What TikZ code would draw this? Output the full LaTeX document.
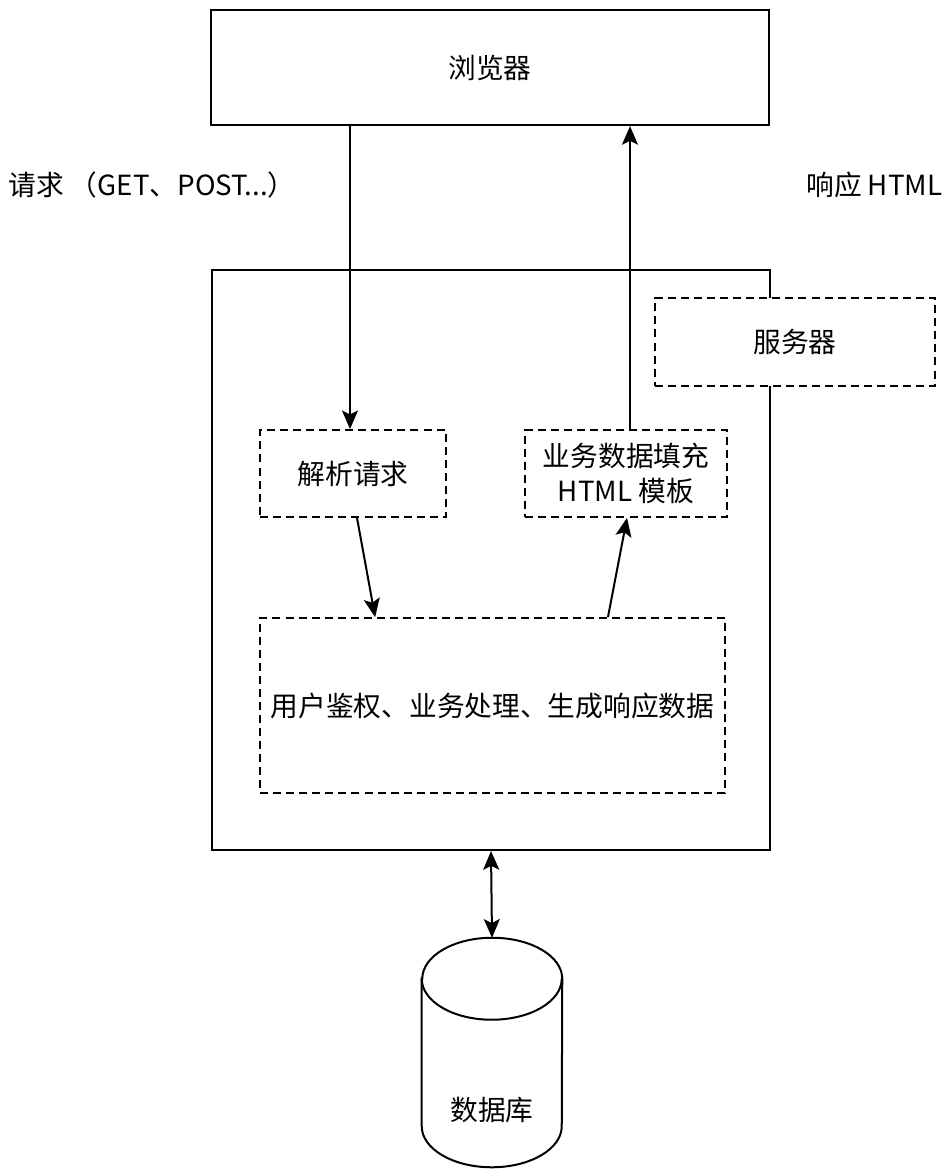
\documentclass[tikz,border=0pt]{standalone}
\usepackage{fontspec}
\setmainfont{Noto Sans CJK SC}
\usetikzlibrary{arrows.meta,calc}

\tikzset{
  solidbox/.style={draw=black, line width=1.6pt, fill=white, inner sep=0pt},
  dashbox/.style={draw=black, line width=1.3pt, dash pattern=on 6pt off 3.8pt,
                  fill=white, inner sep=0pt, align=center},
  txt/.style={font=\fontsize{20.8}{26}\selectfont, text=black},
  arr/.style={line width=1.5pt, -{Stealth[length=14pt,width=12pt,inset=3pt]}},
  dblarr/.style={line width=1.5pt, {Stealth[length=14pt,width=12pt,inset=3pt]}-{Stealth[length=14pt,width=12pt,inset=3pt]}},
}

\begin{document}
\begin{tikzpicture}[x=0.75pt, y=-0.75pt]
\useasboundingbox (0,0) rectangle (948,1171);

% browser and server frames
\node[solidbox, txt, minimum width=418.5pt, minimum height=86.25pt] (browser) at (490,67.5) {浏览器};
\node[solidbox, minimum width=418.5pt, minimum height=435pt] (server) at (491,560) {};
\node[dashbox, txt, minimum width=210pt, minimum height=66pt] (srvlabel) at (795,342) {服务器};

% processing steps inside the server
\node[dashbox, txt, minimum width=139.5pt, minimum height=65.25pt] (parse) at (353,473.5) {解析请求};
\node[dashbox, txt, minimum width=151.5pt, minimum height=65.25pt] (fill) at (626,473.5) {业务数据填充\\HTML 模板};
\node[dashbox, txt, minimum width=348.75pt, minimum height=131.25pt] (proc) at (492.5,705.5) {用户鉴权、业务处理、生成响应数据};

% side labels
\node[txt, anchor=west, inner sep=0pt] (reqlabel) at (8,185) {请求 （GET、POST...）};
\node[txt, anchor=west, inner sep=0pt] (resplabel) at (806,185) {响应 HTML};

% database cylinder
\node[minimum width=105pt, minimum height=171.75pt, inner sep=0pt] (db) at (492,1052.5) {};
\draw[line width=1.5pt, fill=white]
  ([yshift=-30.75pt]db.north west) -- ([yshift=30.75pt]db.south west)
  arc[start angle=180, end angle=360, x radius=52.5pt, y radius=30.75pt]
  -- ([yshift=-30.75pt]db.north east)
  arc[start angle=0, end angle=180, x radius=52.5pt, y radius=30.75pt] -- cycle;
\draw[line width=1.5pt] ([yshift=-30.75pt]db.north west)
  arc[start angle=180, end angle=360, x radius=52.5pt, y radius=30.75pt];
\node[txt] (dbtext) at (492,1110) {数据库};

% connectors
\draw[arr] ([xshift=-2.25pt]parse.north |- browser.south) -- ([xshift=-2.25pt]parse.north);
\draw[arr] ([xshift=3pt]fill.north) -- ([xshift=3pt]fill.north |- browser.south);
\draw[arr] ([xshift=3pt]parse.south) -- ([xshift=-88pt]proc.north);
\draw[arr] ([xshift=86.6pt]proc.north) -- ([xshift=0.75pt]fill.south);
\draw[dblarr] (server.south) -- (db.north);
\end{tikzpicture}
\end{document}
